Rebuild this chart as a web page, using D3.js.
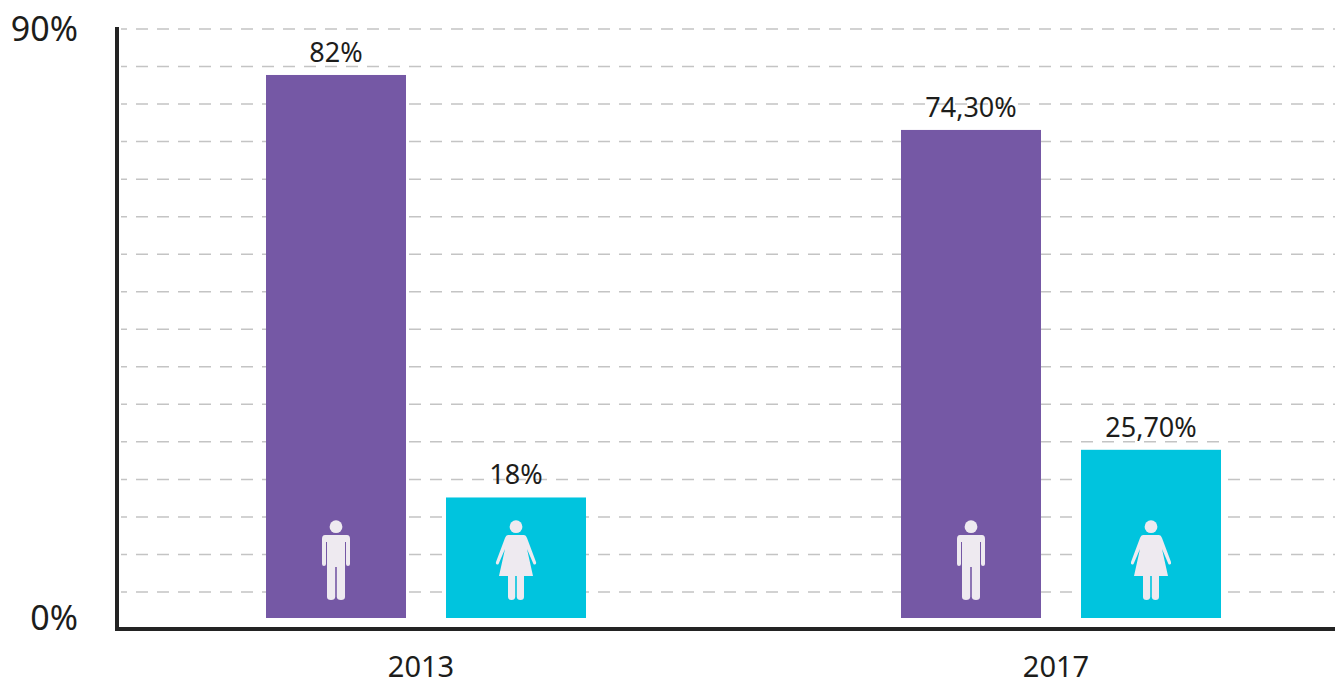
<!DOCTYPE html>
<html>
<head>
<meta charset="utf-8">
<script src="https://cdn.jsdelivr.net/npm/d3@7"></script>
<style>
  html, body { margin: 0; padding: 0; background: #fff; overflow: hidden; }
  text { font-family: "Noto Sans", "Open Sans", sans-serif; fill: #1d1d1b; }
</style>
</head>
<body>
<div id="content"></div>
<script>
// bar heights as measured on the picture, printed labels kept separately
const years = ["2013", "2017"]
const groups = ["men", "women"]
const men = [82, 73.7]
const women = [18.2, 25.4]
const menLabels = ["82%", "74,30%"]
const womenLabels = ["18%", "25,70%"]
const yTicks = [0, 90]
const gridLevels = [0, 1, 2, 3, 4, 5, 6, 7, 8, 9, 10, 11, 12, 13, 14, 15]

const colors = { men: "#7558a5", women: "#00c4de" }
const width = 1335, height = 685

const svg = d3.select("#content").append("svg")
  .attr("width", width)
  .attr("height", height)
  .style("display", "block")

const y = d3.scaleLinear().domain([0, 90]).range([618, 22])
const yGrid = d3.scaleLinear().domain([0, 15]).range([592, 29])
const x0 = d3.scalePoint().domain(years).range([426, 1061])
const x1 = d3.scaleBand().domain(groups).range([-160, 160]).paddingInner(40 / 180).paddingOuter(0)
const barW = x1.bandwidth()

// gridlines
svg.append("g").selectAll("line")
  .data(gridLevels)
  .join("line")
  .attr("x1", 121)
  .attr("x2", width)
  .attr("y1", d => yGrid(d))
  .attr("y2", d => yGrid(d))
  .attr("stroke", "#c4c4c4")
  .attr("stroke-width", 1.5)
  .attr("stroke-dasharray", "12 9")
  .attr("stroke-dashoffset", -15)

const rows = years.flatMap((yr, i) => [
  { year: yr, group: "men", value: men[i], label: menLabels[i] },
  { year: yr, group: "women", value: women[i], label: womenLabels[i] }
])
const barX = d => x0(d.year) + x1(d.group)

svg.append("g").selectAll("rect")
  .data(rows)
  .join("rect")
  .attr("x", barX)
  .attr("y", d => y(d.value))
  .attr("width", barW)
  .attr("height", d => y(0) - y(d.value))
  .attr("fill", d => colors[d.group])

svg.append("g").selectAll("text")
  .data(rows)
  .join("text")
  .attr("x", d => barX(d) + barW / 2)
  .attr("y", d => y(d.value) - 13)
  .attr("text-anchor", "middle")
  .attr("font-size", 27)
  .text(d => d.label)

// pictograms, drawn around x = 0 with the head top at y = 0
const manPath = "M-11,15 Q-14,15 -14,19 L-14,44 Q-14,46 -12,46 Q-10,46 -10,44 L-10,22 L-9,22 L-9,77 Q-9,80 -5,80 Q-1,80 -0.8,77 L-0.8,47 L0.8,47 L0.8,77 Q1,80 5,80 Q9,80 9,77 L9,22 L10,22 L10,44 Q10,46 12,46 Q14,46 14,44 L14,19 Q14,15 11,15 Z"
const womanPath = "M-8,15 Q-10,15 -11,18 L-20,42 Q-20.5,44 -19,44.5 Q-17.5,45 -17,43 L-11,29 L-17,56 L-8,56 L-8,77 Q-8,80 -4.5,80 Q-1,80 -0.8,77 L-0.8,56 L0.8,56 L0.8,77 Q1,80 4.5,80 Q8,80 8,77 L8,56 L17,56 L11,29 L17,43 Q17.5,45 19,44.5 Q20.5,44 20,42 L11,18 Q10,15 8,15 Z"
const iconTop = y(0) - 98

const icons = svg.append("g").selectAll("g")
  .data(rows)
  .join("g")
  .attr("transform", d => `translate(${barX(d) + barW / 2},${iconTop})`)
  .attr("fill", "#eeeaf0")
icons.append("circle").attr("cy", 6.7).attr("r", 6.4)
icons.append("path").attr("d", d => d.group === "men" ? manPath : womanPath)

// axis lines
svg.append("path")
  .attr("d", d3.line()([[117, 27], [117, 629], [width, 629]]))
  .attr("fill", "none")
  .attr("stroke", "#232323")
  .attr("stroke-width", 4)

svg.append("g").selectAll("text")
  .data(yTicks)
  .join("text")
  .attr("x", 78)
  .attr("y", d => d === 0 ? y(d) : 29)
  .attr("dy", "0.36em")
  .attr("text-anchor", "end")
  .attr("font-size", 34)
  .text(d => d + "%")

svg.append("g").selectAll("text")
  .data(years)
  .join("text")
  .attr("x", d => x0(d) - 5)
  .attr("y", 677)
  .attr("text-anchor", "middle")
  .attr("font-size", 29)
  .text(d => d)
</script>
</body>
</html>
